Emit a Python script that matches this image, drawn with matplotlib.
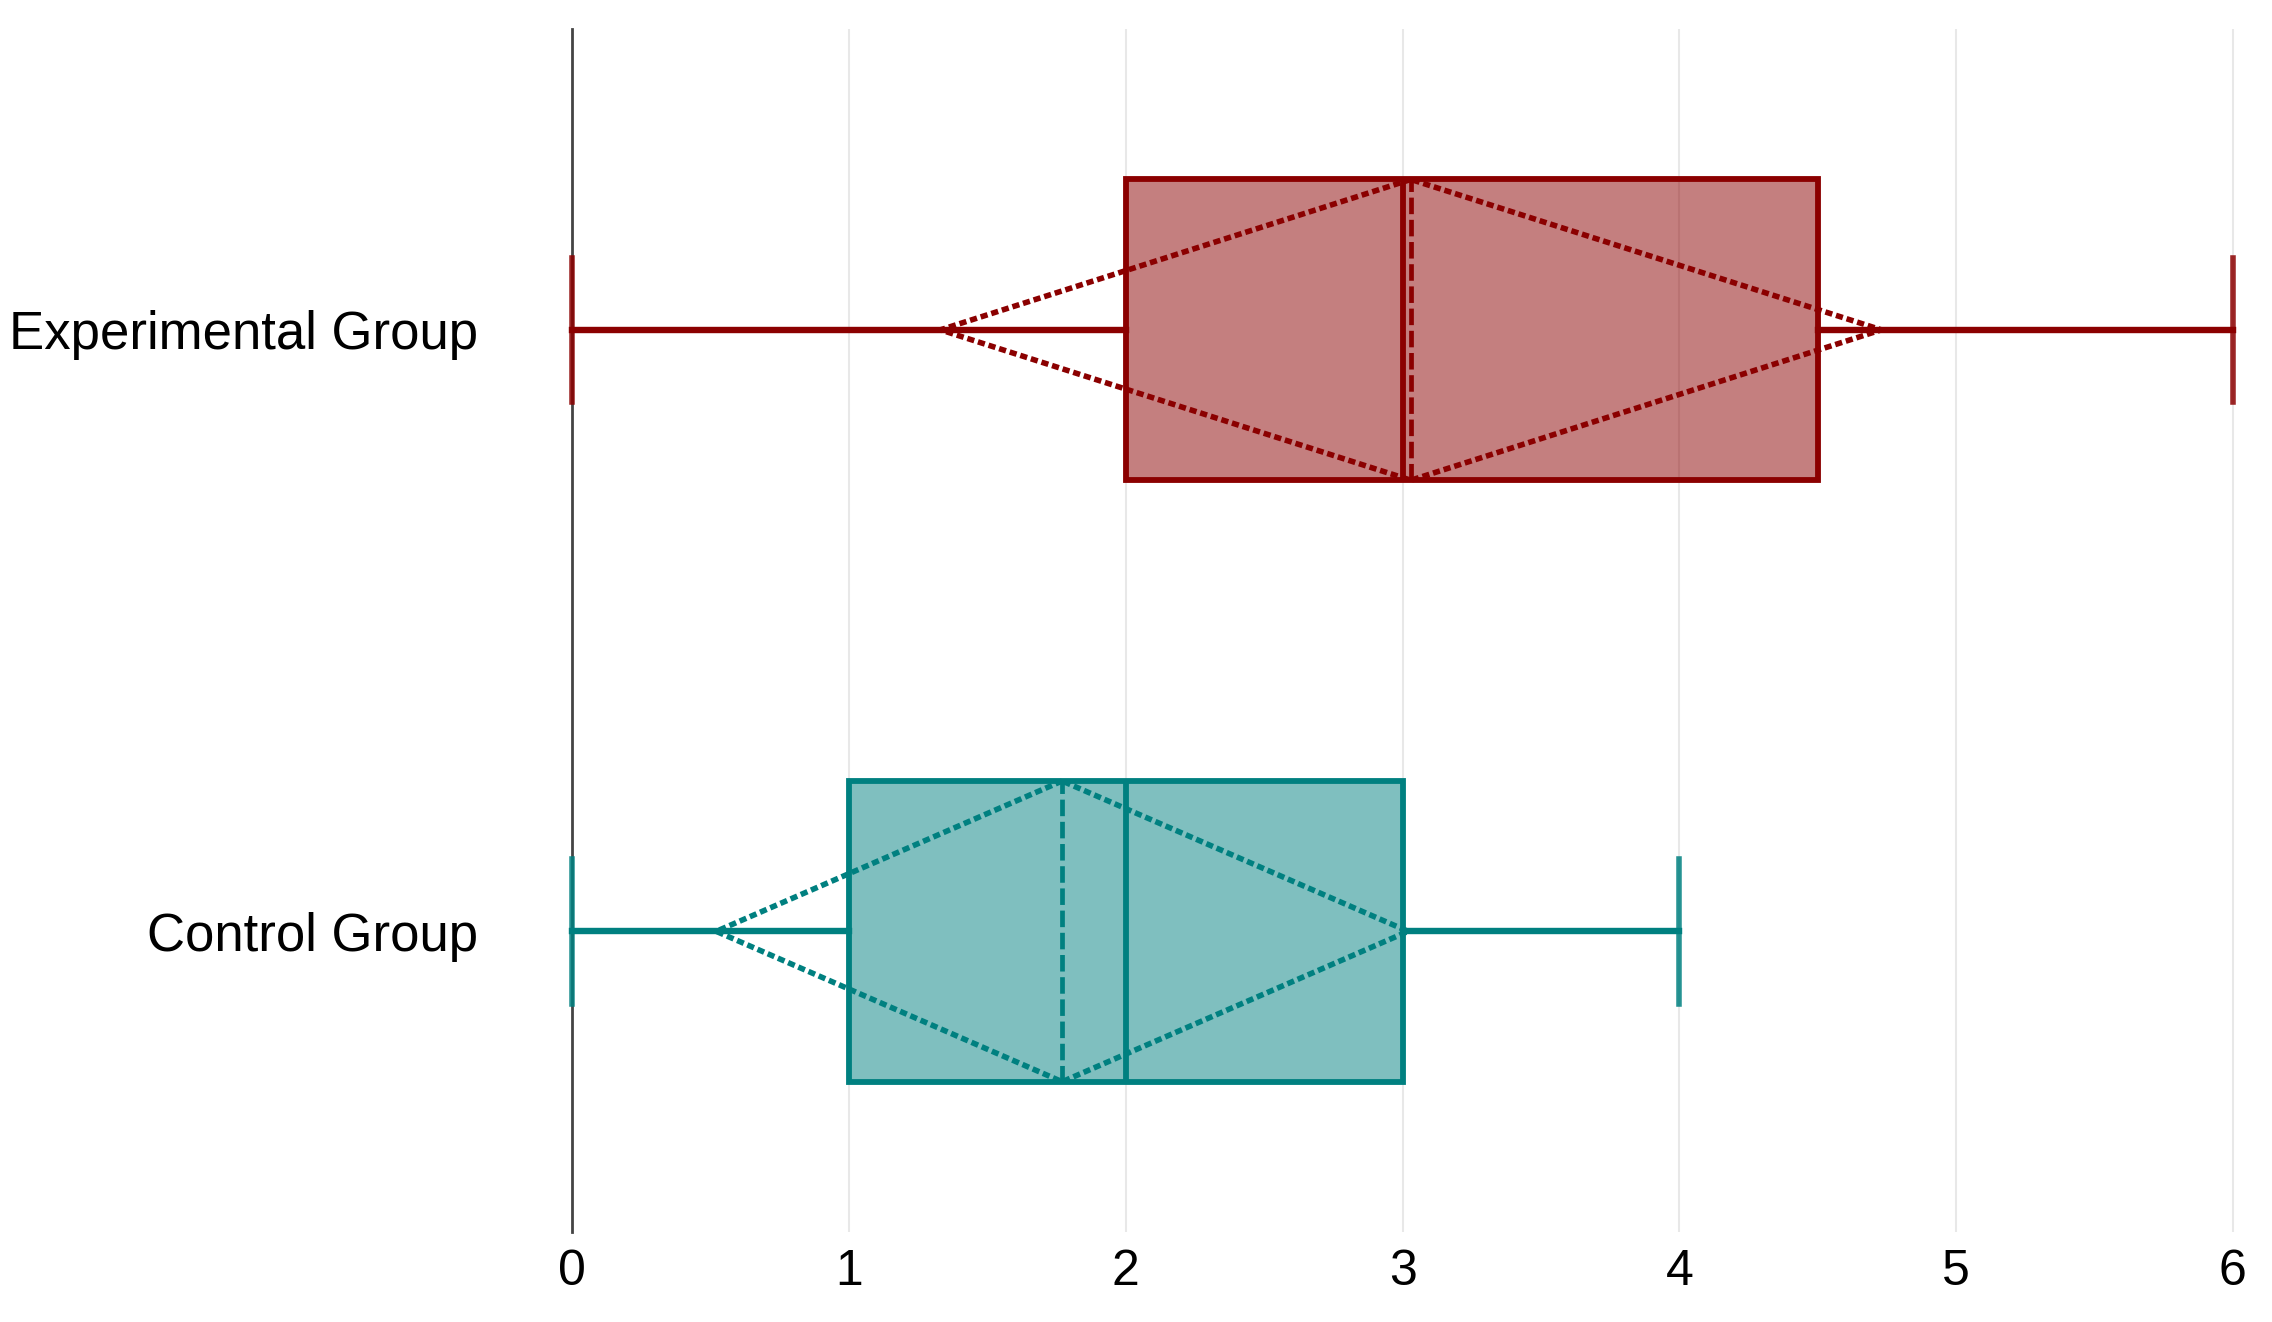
import numpy as np
import matplotlib.pyplot as plt

# dados
groups = ['Control Group', 'Experimental Group']
mins = [0, 0]
q1s = [1, 2]
medians = [2, 3]
q3s = [3, 4.5]
maxs = [4, 6]
means = [1.77, 3.03]
sds = [1.25, 1.70]
line_colors = ['#008080', '#8B0000']

plt.rcParams['font.family'] = ['Liberation Sans', 'DejaVu Sans']

fig = plt.figure(figsize=(22.72, 13.22), dpi=100)
ax = fig.add_axes([0.2519, 0.068, 0.7333, 0.910])

positions = np.arange(len(groups))
stats = []
for i, g in enumerate(groups):
    stats.append(dict(label=g, whislo=mins[i], q1=q1s[i], med=medians[i],
                      q3=q3s[i], whishi=maxs[i], mean=means[i], fliers=[]))

bp = ax.bxp(stats, positions=positions, widths=0.5, orientation='horizontal',
            patch_artist=True, showmeans=True, meanline=True,
            showfliers=False, capwidths=0.24)

for i, c in enumerate(line_colors):
    box = bp['boxes'][i]
    box.set_facecolor((*plt.matplotlib.colors.to_rgb(c), 0.5))
    box.set_edgecolor(c)
    box.set_linewidth(4.2)
    bp['medians'][i].set(color=c, linewidth=4.2)
    bp['means'][i].set(color=c, linewidth=3.4, linestyle=(0, (3.5, 1.2)))
    for w in bp['whiskers'][2 * i:2 * i + 2]:
        w.set(color=c, linewidth=4.6, clip_on=False)
    for cap in bp['caps'][2 * i:2 * i + 2]:
        cap.set(color=c, linewidth=4.0, alpha=0.85, clip_on=False, zorder=5)

    # losango da média +- desvio padrão
    m, s, p = means[i], sds[i], positions[i]
    ax.plot([m, m - s, m, m + s, m], [p + 0.25, p, p - 0.25, p, p + 0.25],
            color=c, linewidth=4.0, linestyle=(0, (1.3, 0.7)), zorder=4)

ax.set_xlim(0, 6.02)
ax.set_ylim(-0.5, 1.5)
ax.set_xticks(np.arange(0, 7))
ax.set_yticks(positions)
ax.set_yticklabels(groups)

ax.grid(axis='x', color='#e8e8e8', linewidth=1.5)
ax.set_axisbelow(True)
ax.axvline(0, color='#444444', linewidth=2.0, zorder=1, clip_on=False)

for sp in ax.spines.values():
    sp.set_visible(False)
ax.tick_params(axis='both', length=0, labelsize=36, colors='black')
ax.tick_params(axis='y', labelsize=38, pad=68)
ax.tick_params(axis='x', pad=12)

fig.savefig('out.png', dpi=100)
